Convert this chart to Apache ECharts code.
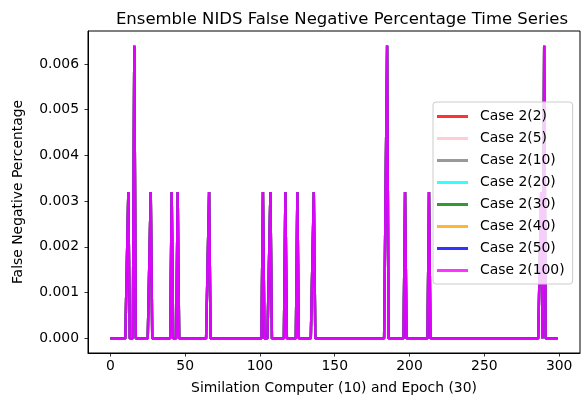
<!DOCTYPE html>
<html>
<head>
<meta charset="utf-8">
<script src="https://cdn.jsdelivr.net/npm/echarts@6/dist/echarts.min.js"></script>
<style>html,body{margin:0;padding:0;background:#fff;}#c{width:585px;height:400px;}</style>
</head>
<body>
<div id="c"></div>
<script>
// ---- data ----
const epochCount = 300; // epochs 0..299
const spikeEpochs = [12, 16, 27, 41, 45, 66, 102, 107, 117, 125, 136, 185, 197, 213, 288, 290];
const spikeValues = [0.0032, 0.0064, 0.0032, 0.0032, 0.0032, 0.0032, 0.0032, 0.0032, 0.0032, 0.0032, 0.0032, 0.0064, 0.0032, 0.0032, 0.0032, 0.0064];
const seriesNames = ['Case 2(2)', 'Case 2(5)', 'Case 2(10)', 'Case 2(20)', 'Case 2(30)', 'Case 2(40)', 'Case 2(50)', 'Case 2(100)'];
const seriesColors = ['#ff0000', '#ffc0cb', '#808080', '#00ffff', '#008000', '#ffa500', '#0000ff', '#ff00ff'];
const xTicks = [0, 50, 100, 150, 200, 250, 300];
const yTicks = [0, 0.001, 0.002, 0.003, 0.004, 0.005, 0.006];

// build the series (zero baseline with the read spikes)
function buildSeries() {
  const pts = [];
  for (let i = 0; i < epochCount; i++) {
    const k = spikeEpochs.indexOf(i);
    pts.push([i, k >= 0 ? spikeValues[k] : 0]);
  }
  return pts;
}
const values = buildSeries();

const font = 'DejaVu Sans';
const chart = echarts.init(document.getElementById('c'), null, {renderer: 'canvas'});
chart.setOption({
  animation: false,
  backgroundColor: '#fff',
  title: {
    text: 'Ensemble NIDS False Negative Percentage Time Series',
    left: 337, top: 6, textAlign: 'center',
    textStyle: {fontFamily: font, fontSize: 16.5, fontWeight: 'normal', color: '#000'}
  },
  grid: {left: 88, right: 5, top: 31, bottom: 46, show: true, borderColor: '#000', borderWidth: 1, backgroundColor: 'transparent'},
  legend: {
    orient: 'vertical', left: 433, top: 102,
    data: seriesNames,
    icon: 'rect', itemWidth: 31, itemHeight: 3, itemGap: 7,
    padding: [7, 8, 6, 4],
    backgroundColor: 'rgba(255,255,255,0.8)', borderColor: '#cccccc', borderWidth: 1, borderRadius: 3,
    textStyle: {fontFamily: font, fontSize: 13.9, color: '#000', lineHeight: 15, padding: [0, 0, 0, 7]}
  },
  xAxis: {
    type: 'value', min: -14.95, max: 313.95,
    name: 'Similation Computer (10) and Epoch (30)', nameLocation: 'middle', nameGap: 28,
    nameTextStyle: {fontFamily: font, fontSize: 13.9, color: '#000'},
    axisLine: {show: true, onZero: false, lineStyle: {color: '#000', width: 1}},
    axisTick: {show: true, length: 3.5, lineStyle: {color: '#000', width: 0.8}, customValues: xTicks},
    axisLabel: {fontFamily: font, fontSize: 13.9, color: '#000', margin: 6, customValues: xTicks, formatter: v => String(v)},
    splitLine: {show: false}
  },
  yAxis: {
    type: 'value', min: -0.00032, max: 0.00672,
    name: 'False Negative Percentage', nameLocation: 'middle', nameGap: 63,
    nameTextStyle: {fontFamily: font, fontSize: 13.9, color: '#000'},
    axisLine: {show: true, onZero: false, lineStyle: {color: '#000', width: 1}},
    axisTick: {show: true, length: 3.5, lineStyle: {color: '#000', width: 0.8}, customValues: yTicks},
    axisLabel: {fontFamily: font, fontSize: 13.9, color: '#000', margin: 9, customValues: yTicks, formatter: v => v.toFixed(3)},
    splitLine: {show: false}
  },
  series: seriesNames.map((n, i) => ({
    name: n, type: 'line', data: values, showSymbol: false, symbol: 'none',
    itemStyle: {color: seriesColors[i], opacity: 0.8},
    lineStyle: {color: seriesColors[i], width: 2.4, opacity: 0.85},
    emphasis: {disabled: true}
  }))
});
</script>
</body>
</html>
